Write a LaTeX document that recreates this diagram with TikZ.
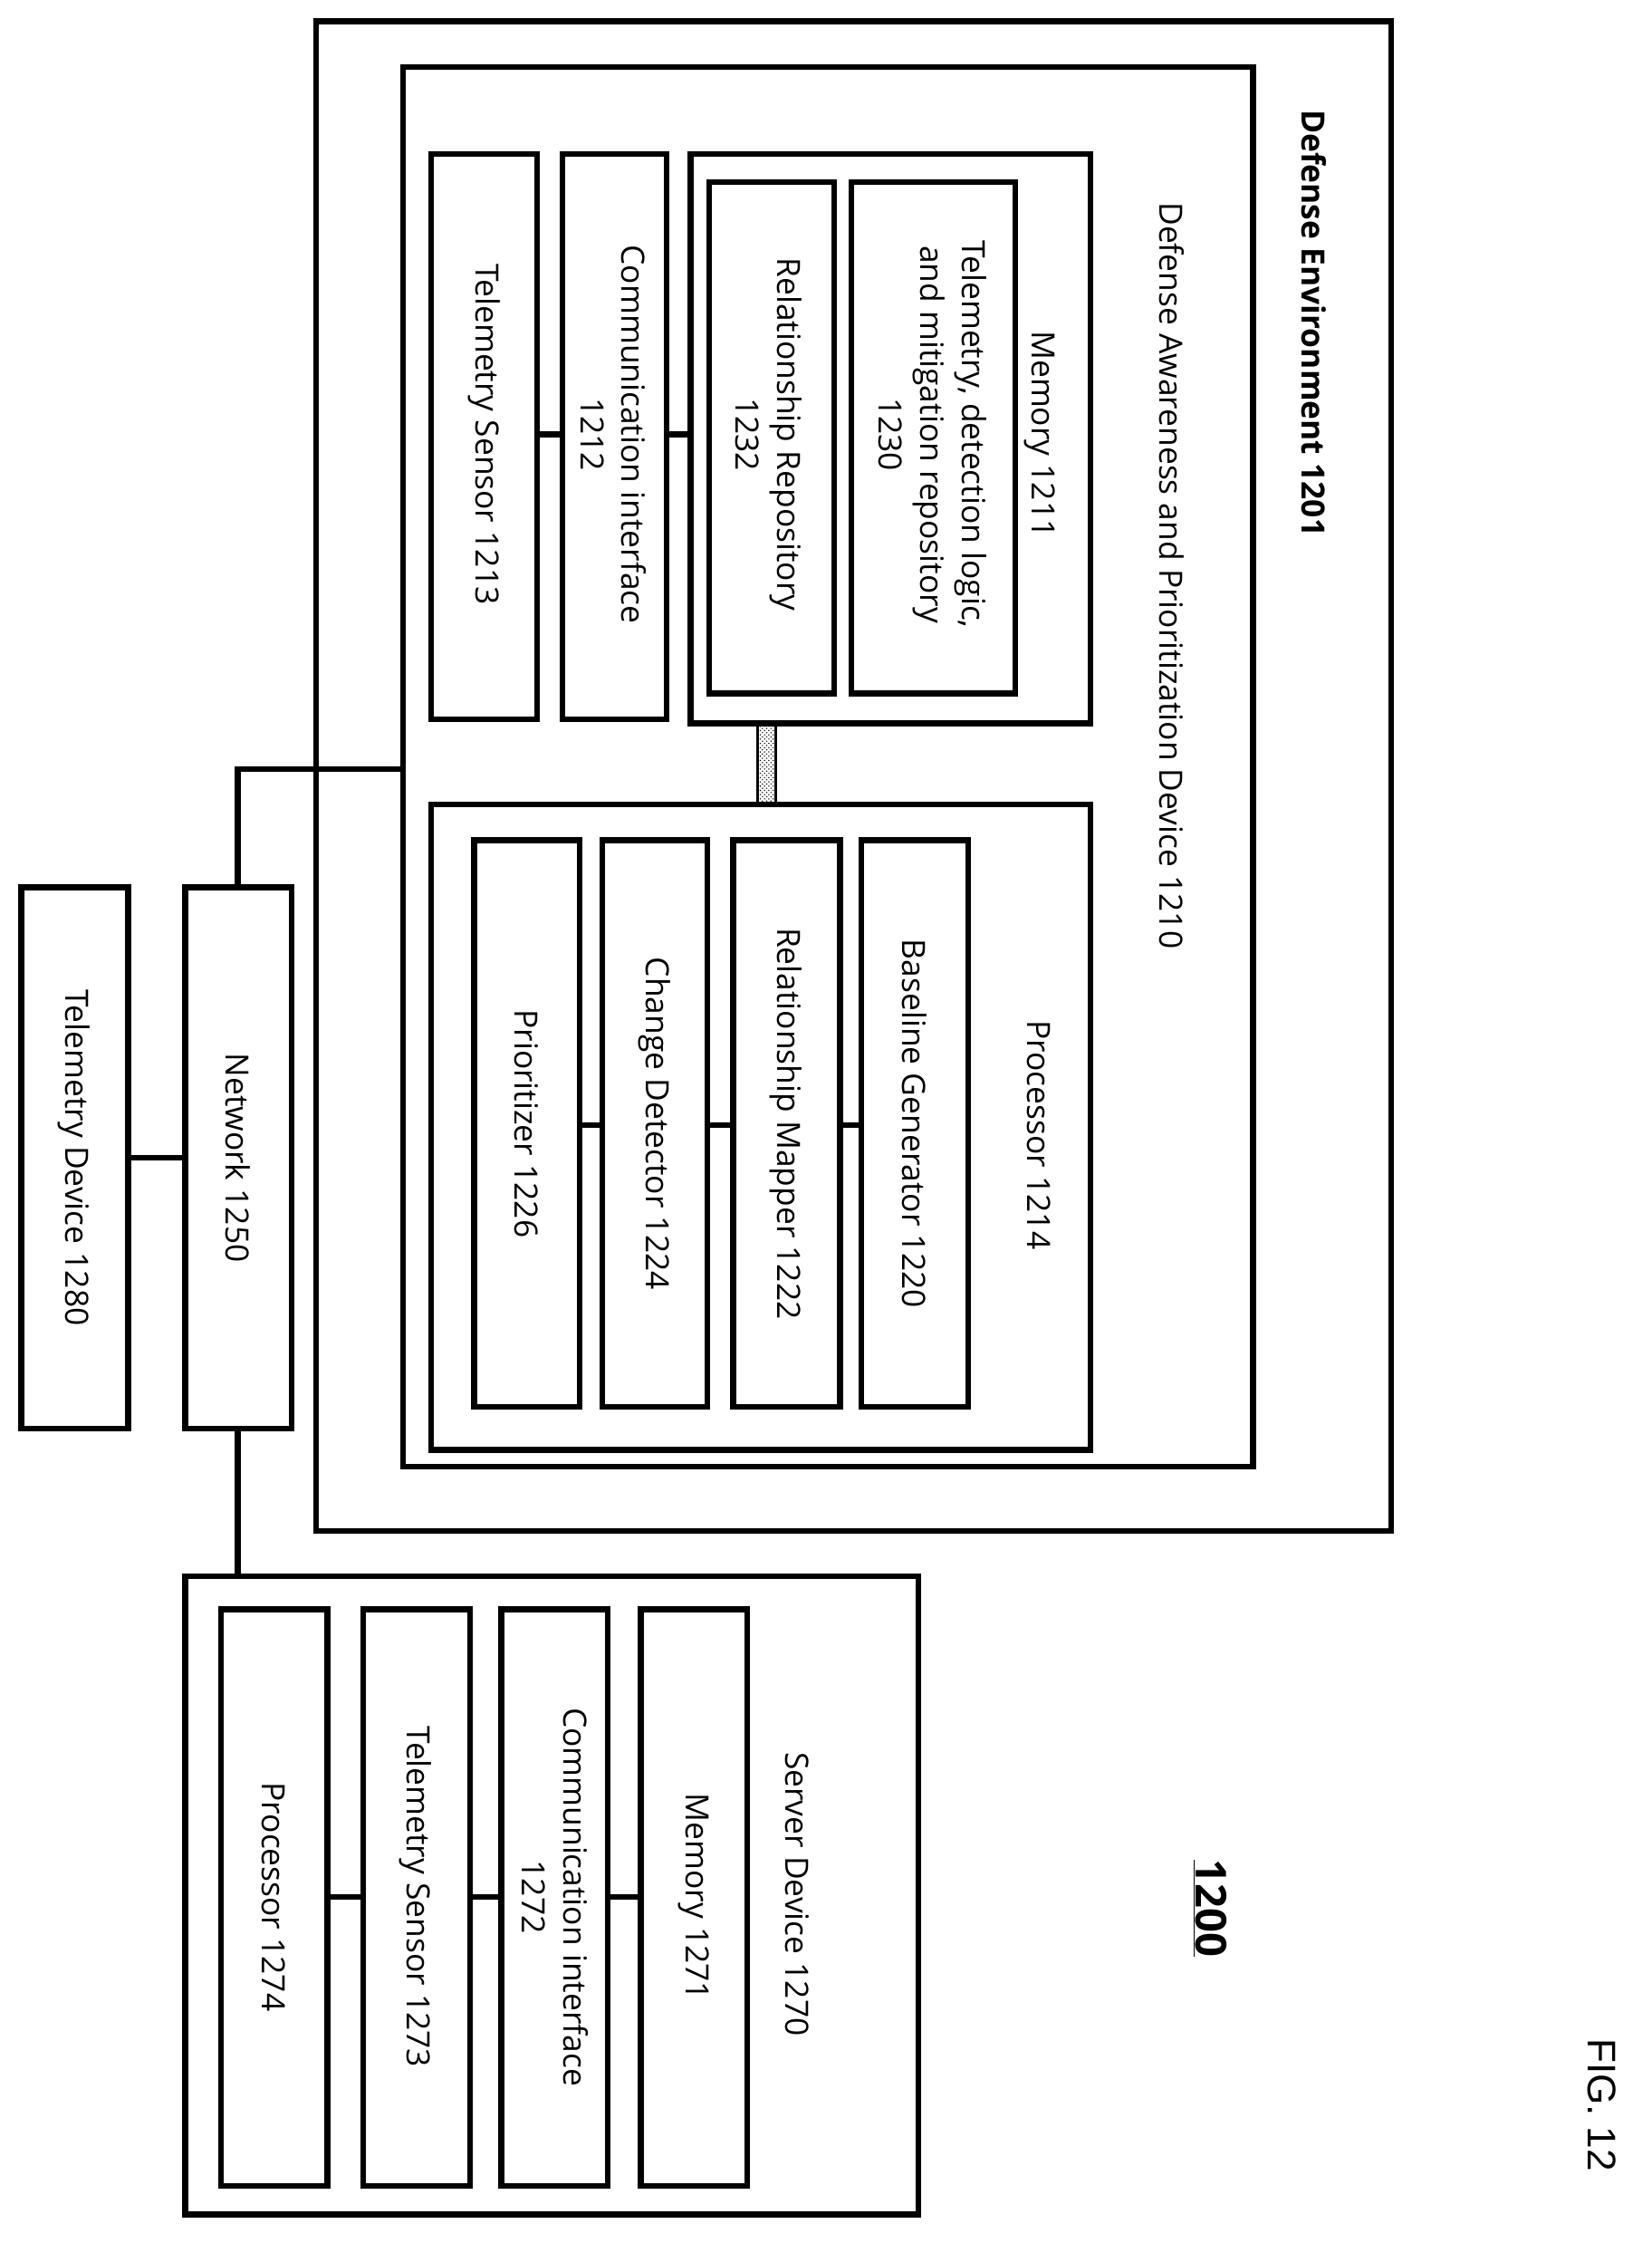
\documentclass[tikz,border=0pt]{standalone}
\usepackage{fontspec}
\setmainfont{Open Sans}
\newfontfamily\figfont{Liberation Sans}
\usetikzlibrary{patterns}
\begin{document}
\begin{tikzpicture}[x=1pt,y=-1pt,line width=4pt,
  lab/.style={rotate=-90,font=\fontsize{22.5}{29}\selectfont,align=center,inner sep=0pt}]
\useasboundingbox (0,0) rectangle (1160,1575);
% outer
\draw (222,15) rectangle (977,1075);
\node[lab,font=\fontsize{22.5}{29}\selectfont\bfseries,anchor=south west] (l1201) at (912,75) {Defense Environment 1201};
\draw (283,47) rectangle (880,1030);
\node[lab,anchor=south west] (l1210) at (812,140) {Defense Awareness and Prioritization Device 1210};
% memory
\draw (485,108) rectangle (766,508);
\node[lab] (l1211) at (730,305) {Memory 1211};
\draw (598,128) rectangle (713,487);
\node[lab] (l1230) at (655,305) {Telemetry, detection logic,\\ and mitigation repository\\ 1230};
\draw (498,128) rectangle (586,487);
\node[lab] (l1232) at (540,305) {Relationship Repository\\ 1232};
\draw (395,108) rectangle (468,505);
\node[lab] (l1212) at (431,305) {Communication interface\\ 1212};
\draw (303,108) rectangle (377,505);
\node[lab] (l1213) at (340,305) {Telemetry Sensor 1213};
\draw (377,305) -- (395,305);
\draw (468,305) -- (485,305);
% hatched bus
\draw[line width=2pt,pattern=crosshatch dots] (532,508) rectangle (545,565);
% processor
\draw (303,565) rectangle (766,1018);
\node[lab] (l1214) at (730,797) {Processor 1214};
\draw (605,590) rectangle (680,988);
\node[lab] at (642,789) {Baseline Generator 1220};
\draw (515,590) rectangle (590,988);
\node[lab] at (552,789) {Relationship Mapper 1222};
\draw (423,590) rectangle (497,988);
\node[lab] at (460,789) {Change Detector 1224};
\draw (333,590) rectangle (407,988);
\node[lab] at (370,789) {Prioritizer 1226};
\draw (590,790) -- (605,790);
\draw (497,790) -- (515,790);
\draw (407,790) -- (423,790);
% network
\draw (130,623) rectangle (205,1003);
\node[lab] at (167,813) {Network 1250};
\draw (15,623) rectangle (90,1003);
\node[lab] at (52,813) {Telemetry Device 1280};
\draw (90,813) -- (130,813);
\draw (167,623) -- (167,540) -- (283,540);
\draw (167,1003) -- (167,1107);
% server
\draw (130,1107) rectangle (645,1555);
\node[lab] at (560,1330) {Server Device 1270};
\draw (450,1130) rectangle (525,1535);
\node[lab] at (487,1332) {Memory 1271};
\draw (352,1130) rectangle (427,1535);
\node[lab] at (390,1332) {Communication interface\\ 1272};
\draw (255,1130) rectangle (330,1535);
\node[lab] at (292,1332) {Telemetry Sensor 1273};
\draw (155,1130) rectangle (230,1535);
\node[lab] at (192,1332) {Processor 1274};
\draw (427,1332) -- (450,1332);
\draw (330,1332) -- (352,1332);
\draw (230,1332) -- (255,1332);
% labels
\node[lab,font=\fontsize{30}{36}\selectfont\bfseries] at (850,1340) {\underline{1200}};
\node[lab,font=\fontsize{28}{34}\selectfont\figfont] at (1125,1478) {FIG. 12};
\end{tikzpicture}
\end{document}
